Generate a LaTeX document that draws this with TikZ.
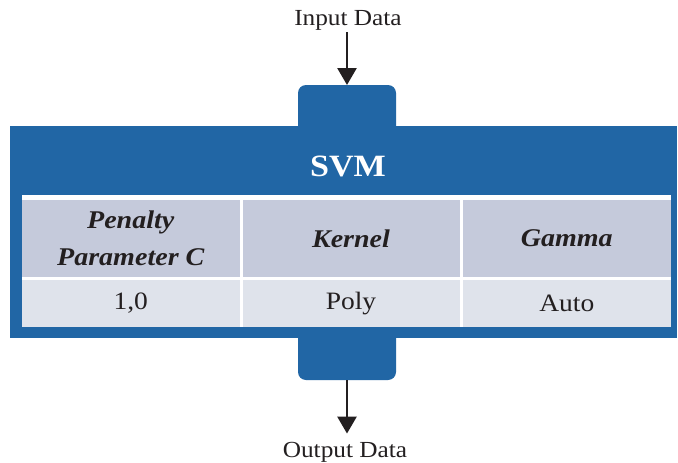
\documentclass[tikz,border=0pt]{standalone}
\usepackage{fontspec}
\setmainfont{Liberation Serif}[FakeStretch=1.1]
\usetikzlibrary{arrows.meta}
\definecolor{svmblue}{HTML}{2166A5}
\definecolor{hdrgray}{HTML}{C5CADB}
\definecolor{rowgray}{HTML}{DFE3EB}
\definecolor{ink}{HTML}{231F20}
\begin{document}
\begin{tikzpicture}[x=1pt,y=-1pt,
  tab/.style={fill=svmblue, rounded corners=8pt, minimum width=98pt, minimum height=50pt, inner sep=0pt, outer sep=0pt},
  hdr/.style={fill=hdrgray, anchor=north west, minimum height=77pt, inner sep=0pt, outer sep=0pt, align=center, text=ink, font=\fontsize{25.5}{37}\selectfont\bfseries\itshape},
  cell/.style={fill=rowgray, anchor=north west, minimum height=47pt, inner sep=0pt, outer sep=0pt, text=ink, font=\fontsize{25}{29}\selectfont},
  lbl/.style={text=ink, font=\fontsize{23}{28}\selectfont, inner sep=2pt},
  arr/.style={draw=ink, line width=2.7pt, -{Triangle[length=17pt,width=19pt]}}
]
\useasboundingbox (0,0) rectangle (678,463);
\fill[white] (0,0) rectangle (678,463);
% tabs
\node[tab] (tabtop) at (347,110) {};
\node[tab] (tabbot) at (347,355) {};
% main block
\node[fill=svmblue, minimum width=667pt, minimum height=212pt, inner sep=0pt, outer sep=0pt] (main) at (343.5,232) {};
\node[text=white, font=\fontsize{31}{36}\selectfont\bfseries, inner sep=0pt] (title) at (348,166) {SVM};
% table
\node[fill=white, anchor=north west, minimum width=649pt, minimum height=132pt, inner sep=0pt, outer sep=0pt] (band) at (22,195) {};
\node[hdr, minimum width=217.5pt] (h1) at (22,200) {Penalty\\Parameter C};
\node[hdr, minimum width=217pt] (h2) at (242.5,200) {Kernel};
\node[hdr, minimum width=208.5pt] (h3) at (462.5,200) {Gamma};
\node[cell, minimum width=217.5pt] (d1) at (22,280) {1,0};
\node[cell, minimum width=217pt] (d2) at (242.5,280) {Poly};
\node[cell, minimum width=208.5pt] (d3) at (462.5,280) {Auto};
% labels and arrows
\node[lbl, anchor=base] (inp) at (348,25) {Input Data};
\node[lbl, anchor=base] (outp) at (345,457) {Output Data};
\draw[arr] (tabtop.north |- inp.south) -- (tabtop.north);
\draw[arr, shorten >=6pt] (tabbot.south) -- (tabbot.south |- outp.north);
\end{tikzpicture}
\end{document}
